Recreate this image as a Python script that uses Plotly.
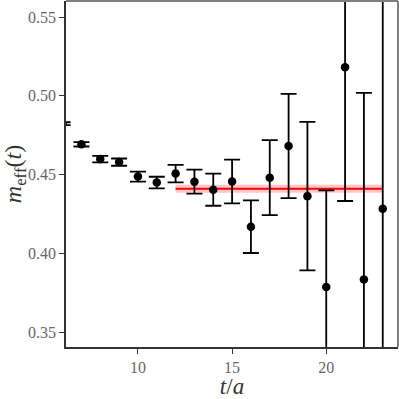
import plotly.graph_objects as go

t = [6, 7, 8, 9, 10, 11, 12, 13, 14, 15, 16, 17, 18, 19, 20, 21, 22, 23]
m_eff = [0.4823, 0.4692, 0.4598, 0.4579, 0.4487, 0.4449, 0.4506, 0.4455, 0.4404,
         0.4456, 0.4169, 0.4480, 0.4681, 0.4363, 0.3786, 0.5181, 0.3833, 0.4283]
m_err = [0.0009, 0.0014, 0.0021, 0.0023, 0.0032, 0.0037, 0.0056, 0.0076, 0.0102,
         0.0139, 0.0167, 0.0238, 0.0331, 0.0471, 0.0614, 0.0849, 0.1185, 0.16]

fit_t = [12, 23]
fit_value = 0.4410
fit_err = 0.0025

x_range = [6.18, 23.81]
y_range = [0.3405, 0.5602]
y_ticks = [0.35, 0.40, 0.45, 0.50, 0.55]
y_ticklabels = ["0.35", "0.40", "0.45", "0.50", "0.55"]
x_ticks = [10, 15, 20]

fig = go.Figure()

# fit band
fig.add_trace(go.Scatter(x=fit_t, y=[fit_value - fit_err] * 2, mode="lines",
                         line=dict(width=0, color="rgba(255,0,0,0)"), showlegend=False,
                         hoverinfo="skip"))
fig.add_trace(go.Scatter(x=fit_t, y=[fit_value + fit_err] * 2, mode="lines",
                         line=dict(width=0, color="rgba(255,0,0,0)"), fill="tonexty",
                         fillcolor="rgba(255,0,0,0.22)", showlegend=False, hoverinfo="skip"))
fig.add_trace(go.Scatter(x=fit_t, y=[fit_value] * 2, mode="lines",
                         line=dict(width=2, color="rgb(255,0,0)"), showlegend=False))

fig.add_trace(go.Scatter(
    x=t, y=m_eff, mode="markers",
    marker=dict(size=8.5, color="black"),
    error_y=dict(type="data", array=m_err, visible=True, color="black",
                 thickness=1.8, width=8),
    showlegend=False,
))

font_family = "Liberation Serif"

fig.update_layout(
    width=399, height=399,
    margin=dict(l=66, r=1, t=1, b=52),
    plot_bgcolor="white", paper_bgcolor="white",
    font=dict(family=font_family),
    xaxis=dict(range=x_range, tickvals=x_ticks, showgrid=False, zeroline=False,
               showline=True, linecolor="#333333", linewidth=1.5,
               ticks="outside", ticklen=5, tickwidth=1.2, tickcolor="#333333",
               tickfont=dict(size=16, color="#666666", family=font_family),
               title=dict(text="<i>t</i>/<i>a</i>", font=dict(size=23, color="#333333", family=font_family),
                          standoff=7)),
    yaxis=dict(range=y_range, tickvals=y_ticks, ticktext=y_ticklabels,
               showgrid=False, zeroline=False,
               showline=True, linecolor="#333333", linewidth=1.5,
               ticks="outside", ticklen=5, tickwidth=1.2, tickcolor="#333333",
               tickfont=dict(size=16, color="#666666", family=font_family),
               title=dict(text="<i>m</i><sub>eff</sub>(<i>t</i>)",
                          font=dict(size=24, color="#333333", family=font_family), standoff=7)),
    shapes=[
        dict(type="line", xref="paper", yref="paper", x0=0, x1=1, y0=1, y1=1,
             line=dict(color="#7f7f7f", width=2), layer="above"),
        dict(type="line", xref="paper", yref="paper", x0=1, x1=1, y0=0, y1=1,
             line=dict(color="#7f7f7f", width=2), layer="above"),
    ],
)

fig.write_html("out.html", config={"displayModeBar": False},
               post_script="document.body.style.margin='0';document.body.style.overflow='hidden';")
